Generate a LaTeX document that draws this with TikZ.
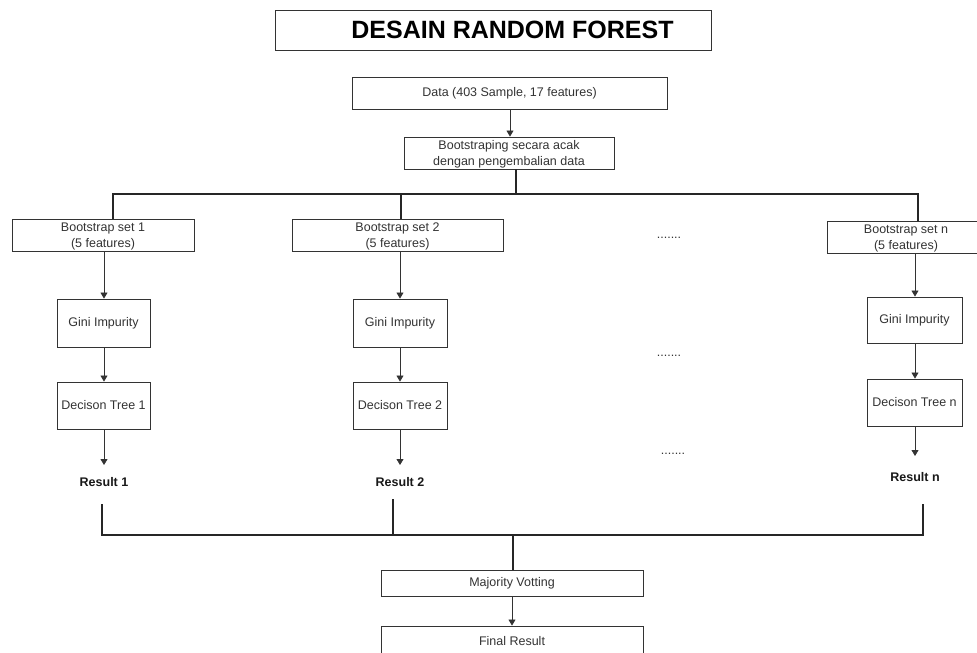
\documentclass[tikz,border=0pt]{standalone}
\usepackage{fontspec}
\setmainfont{Liberation Sans}
\usetikzlibrary{arrows.meta}
\definecolor{ink}{RGB}{51,51,51}
\begin{document}
\begin{tikzpicture}[x=1pt,y=-1pt,
  box/.style={draw=ink, line width=0.9pt, text=ink, inner sep=0pt, font=\fontsize{12.5}{16}\selectfont, align=center},
  res/.style={inner sep=1pt, font=\fontsize{12.5}{15}\selectfont\bfseries, text=black!90},
  dots/.style={inner sep=0pt, font=\fontsize{12.5}{15}\selectfont, text=ink},
  arr/.style={draw=ink, line width=0.8pt, -{Triangle[width=7pt,length=6pt]}},
  bus/.style={draw=black!85, line width=1.8pt},
]
\clip (0,0) rectangle (977,653);
\fill[white] (0,0) rectangle (977,653);

% title
\node[box, minimum width=436pt, minimum height=40pt, font=\fontsize{25}{30}\selectfont\bfseries, text=black] (title) at (493,30) {\hspace*{39pt}DESAIN RANDOM FOREST};

% top
\node[box, minimum width=315pt, minimum height=32pt] (data) at (509.5,93) {Data (403 Sample, 17 features)};
\node[box, minimum width=210pt, minimum height=32pt] (boot) at (509,153) {\rule{0pt}{11pt}Bootstraping secara acak\\dengan pengembalian data};
\draw[arr] (data.south -| 510,0) -- (boot.north -| 510,0);

% bootstrap sets
\node[box, minimum width=182pt, minimum height=32pt] (bs1) at (103,235) {\rule{0pt}{11pt}Bootstrap set 1\\(5 features)};
\node[box, minimum width=211pt, minimum height=32pt] (bs2) at (397.5,235) {\rule{0pt}{11pt}Bootstrap set 2\\(5 features)};
\node[box, minimum width=158pt, minimum height=32pt] (bsn) at (906,237) {\rule{0pt}{11pt}Bootstrap set n\\(5 features)};

\coordinate (jt) at (516,194);
\draw[bus] (boot.south -| jt) -- (jt);
\draw[bus] (bs1.north -| 113,0) -- (113,194) -- (918,194) -- (bsn.north -| 918,0);
\draw[bus] (401,194) -- (bs2.north -| 401,0);

% column 1
\node[box, minimum width=93pt, minimum height=48pt] (g1) at (103.5,323) {Gini Impurity};
\node[box, minimum width=93pt, minimum height=47pt] (d1) at (103.5,405.5) {Decison Tree 1};
\node[res] (r1) at (104,482) {Result 1};
\draw[arr] (bs1.south -| 104,0) -- (g1.north -| 104,0);
\draw[arr] (g1.south -| 104,0) -- (d1.north -| 104,0);
\draw[arr] (d1.south -| 104,0) -- (104,465);

% column 2
\node[box, minimum width=94pt, minimum height=48pt] (g2) at (400,323) {Gini Impurity};
\node[box, minimum width=94pt, minimum height=47pt] (d2) at (400,405.5) {Decison Tree 2};
\node[res] (r2) at (400,482) {Result 2};
\draw[arr] (bs2.south -| 400,0) -- (g2.north -| 400,0);
\draw[arr] (g2.south -| 400,0) -- (d2.north -| 400,0);
\draw[arr] (d2.south -| 400,0) -- (400,465);

% column n
\node[box, minimum width=95pt, minimum height=46pt] (gn) at (914.5,320) {Gini Impurity};
\node[box, minimum width=95pt, minimum height=47pt] (dn) at (914.5,402.5) {Decison Tree n};
\node[res] (rn) at (915,477) {Result n};
\draw[arr] (bsn.south -| 915,0) -- (gn.north -| 915,0);
\draw[arr] (gn.south -| 915,0) -- (dn.north -| 915,0);
\draw[arr] (dn.south -| 915,0) -- (915,456);

% dots
\node[dots] (dA) at (669,238) {.......};
\node[dots] (dB) at (669,356) {.......};
\node[dots] (dC) at (673,454) {.......};

% bottom
\node[box, minimum width=262pt, minimum height=26pt] (mv) at (512,583) {Majority Votting};
\node[box, minimum width=262pt, minimum height=30pt] (fr) at (512,641) {Final Result};

\coordinate (b1) at (102,504);
\coordinate (b2) at (393,499);
\coordinate (bn) at (923,504);
\draw[bus] (b1) -- (102,535) -- (923,535) -- (bn);
\draw[bus] (b2) -- (393,535);
\draw[bus] (513,535) -- (mv.north -| 513,0);
\draw[arr] (mv.south -| 512,0) -- (fr.north -| 512,0);
\end{tikzpicture}
\end{document}
